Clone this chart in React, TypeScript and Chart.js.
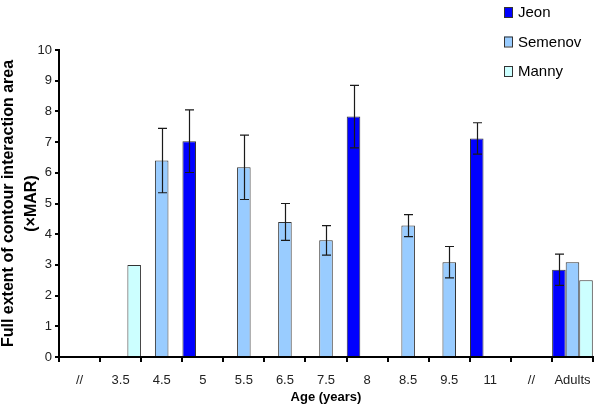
import React, { useEffect, useRef } from "react";
import { Chart, registerables } from "chart.js";

Chart.register(...registerables);

const categories = ["//", "3.5", "4.5", "5", "5.5", "6.5", "7.5", "8", "8.5", "9.5", "11", "//", "Adults"];
const jeon = [null, null, null, 7.03, null, null, null, 7.83, null, null, 7.12, null, 2.84];
const jeonErr = [null, null, null, 1.02, null, null, null, 1.02, null, null, 0.51, null, 0.51];
const semenov = [null, null, 6.4, null, 6.18, 4.4, 3.8, null, 4.28, 3.09, null, null, 3.09];
const semenovErr = [null, null, 1.05, null, 1.05, 0.6, 0.48, null, 0.36, 0.51, null, null, null];
const manny = [null, 3.0, null, null, null, null, null, null, null, null, null, null, 2.5];
const mannyErr = [null, null, null, null, null, null, null, null, null, null, null, null, null];
const seriesNames = ["Jeon", "Semenov", "Manny"];
const yTicksMax = 10;

const FONT = "'Liberation Sans', Arial, sans-serif";

const errorBarPlugin = {
  id: "errorBars",
  afterDatasetsDraw(chart: any) {
    const ctx = chart.ctx;
    const yScale = chart.scales.y;
    chart.data.datasets.forEach((ds: any, i: number) => {
      const meta = chart.getDatasetMeta(i);
      const errs = ds.errors as (number | null)[];
      meta.data.forEach((bar: any, j: number) => {
        const v = ds.data[j];
        const e = errs[j];
        if (v == null || e == null) return;
        const x = Math.round(bar.x) + 0.5;
        const yt = yScale.getPixelForValue(v + e);
        const yb = yScale.getPixelForValue(v - e);
        ctx.save();
        ctx.strokeStyle = "#1a1a1a";
        ctx.lineWidth = 1.2;
        ctx.beginPath();
        ctx.moveTo(x, yt);
        ctx.lineTo(x, yb);
        ctx.moveTo(x - 4.5, yt);
        ctx.lineTo(x + 4.5, yt);
        ctx.moveTo(x - 4.5, yb);
        ctx.lineTo(x + 4.5, yb);
        ctx.stroke();
        ctx.restore();
      });
    });
  },
};

const legendPlugin = {
  id: "customLegend",
  afterDraw(chart: any) {
    const ctx = chart.ctx;
    ctx.save();
    chart.data.datasets.forEach((ds: any, i: number) => {
      const yc = 12 + i * 29.5;
      ctx.fillStyle = ds.backgroundColor;
      ctx.fillRect(504, yc - 5, 8, 10);
      ctx.strokeStyle = "#333";
      ctx.lineWidth = 1;
      ctx.strokeRect(504.5, yc - 4.5, 8, 10);
      ctx.fillStyle = "#000";
      ctx.font = `15px ${FONT}`;
      ctx.textBaseline = "middle";
      ctx.textAlign = "left";
      ctx.fillText(ds.label, 518, yc + 1);
    });
    ctx.restore();
  },
};

export default function App() {
  const ref = useRef<HTMLCanvasElement>(null);
  useEffect(() => {
    if (!ref.current) return;
    const chart = new Chart(ref.current, {
      type: "bar",
      data: {
        labels: categories,
        datasets: [
          { label: seriesNames[0], data: jeon, errors: jeonErr, backgroundColor: "#0000ff", borderColor: "#333", borderWidth: 1 } as any,
          { label: seriesNames[1], data: semenov, errors: semenovErr, backgroundColor: "#99ccff", borderColor: "#333", borderWidth: 1 } as any,
          { label: seriesNames[2], data: manny, errors: mannyErr, backgroundColor: "#ccffff", borderColor: "#333", borderWidth: 1 } as any,
        ],
      },
      options: {
        responsive: false,
        animation: false,
        layout: { padding: { top: 50, right: 7, left: 0, bottom: 2 } },
        datasets: { bar: { categoryPercentage: 0.99, barPercentage: 1.0 } },
        plugins: { legend: { display: false }, tooltip: { enabled: false } },
        scales: {
          x: {
            grid: { display: true, drawOnChartArea: false, drawTicks: true, tickLength: 5, color: "#000", lineWidth: 2, offset: true },
            border: { display: true, color: "#000", width: 2 },
            ticks: { color: "#222", font: { family: FONT, size: 13 }, padding: 11, autoSkip: false, maxRotation: 0 },
            title: { display: true, text: "Age (years)", color: "#000", font: { family: FONT, size: 13, weight: "bold" }, padding: { top: 4, bottom: 1 } },
            afterFit(scale: any) { scale.height = 49; scale.paddingRight = 0; scale.paddingLeft = 0; },
          },
          y: {
            min: 0,
            max: yTicksMax,
            grid: { display: true, drawOnChartArea: false, drawTicks: true, tickLength: 4, color: "#000", lineWidth: 2 },
            border: { display: true, color: "#000", width: 2 },
            ticks: { stepSize: 1, color: "#222", font: { family: FONT, size: 13 }, padding: 3 },
            title: { display: true, text: ["Full extent of contour interaction area", "(×MAR)"], color: "#000", font: { family: FONT, size: 16, weight: "bold", lineHeight: 1.4 }, padding: { top: -2.5, bottom: 0 } },
            afterFit(scale: any) { scale.width = 59; },
          },
        },
      },
      plugins: [errorBarPlugin, legendPlugin],
    });
    return () => chart.destroy();
  }, []);
  return (
    <div style={{ position: "fixed", left: 0, top: 0, width: 600, height: 408, background: "#fff" }}>
      <canvas ref={ref} width={600} height={408} style={{ display: "block" }} />
    </div>
  );
}
